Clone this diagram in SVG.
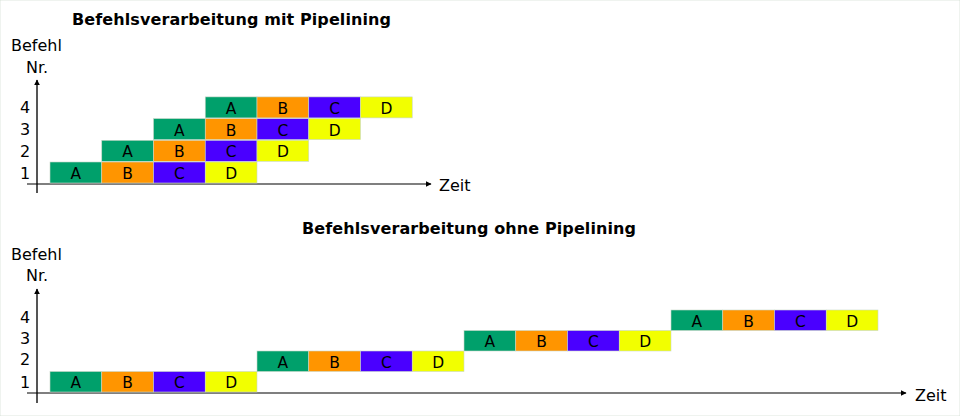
<svg xmlns="http://www.w3.org/2000/svg" width="960" height="416" viewBox="0 0 960 416">
<defs>
<marker id="ah" viewBox="0 0 10 10" refX="9" refY="5" markerWidth="6" markerHeight="6" markerUnits="userSpaceOnUse" orient="auto"><path d="M0,0 L10,5 L0,10 z" fill="#000"/></marker>
<style>
text{font-family:"DejaVu Sans","Liberation Sans",sans-serif;font-size:16px;fill:#000}
.t{font-weight:bold;font-size:16px}
.lbl{text-anchor:middle;font-size:15.5px}
.A{fill:#00a06b}.B{fill:#ff9500}.C{fill:#4a00ff}.D{fill:#f2ff00}
rect{stroke:#c8d8c8;stroke-width:0.6}
.ax{stroke:#000;stroke-width:1.2;fill:none}
.ay{stroke:#555;stroke-width:2;fill:none}
</style>
</defs>
<rect width="960" height="416" fill="#fff" stroke="none"/>
<text class="t" x="72" y="25" textLength="319" lengthAdjust="spacing">Befehlsverarbeitung mit Pipelining</text>
<text x="11" y="51">Befehl</text>
<text x="26" y="73">Nr.</text>
<text x="20" y="113">4</text>
<text x="20" y="135">3</text>
<text x="20" y="157">2</text>
<text x="20" y="179">1</text>
<text x="439" y="191">Zeit</text>
<text class="t" x="302" y="234" textLength="334" lengthAdjust="spacing">Befehlsverarbeitung ohne Pipelining</text>
<text x="11" y="260">Befehl</text>
<text x="26" y="281">Nr.</text>
<text x="20" y="323">4</text>
<text x="20" y="344">3</text>
<text x="20" y="365">2</text>
<text x="20" y="388">1</text>
<text x="915" y="401">Zeit</text>
<g id="connectors">
<line class="ay" x1="37" y1="193" x2="37" y2="80" marker-end="url(#ah)"/>
<line class="ax" x1="27" y1="184" x2="431" y2="184" marker-end="url(#ah)"/>
<line class="ay" x1="37" y1="403" x2="37" y2="289" marker-end="url(#ah)"/>
<line class="ax" x1="27" y1="393" x2="906" y2="393" marker-end="url(#ah)"/>
</g>
<!-- top chart -->
<g id="p1A"><rect class="A" x="50" y="162" width="51.75" height="21"/><text class="lbl" x="75.9" y="179">A</text></g>
<g id="p1B"><rect class="B" x="101.75" y="162" width="51.75" height="21"/><text class="lbl" x="127.6" y="179">B</text></g>
<g id="p1C"><rect class="C" x="153.5" y="162" width="51.75" height="21"/><text class="lbl" x="179.4" y="179">C</text></g>
<g id="p1D"><rect class="D" x="205.25" y="162" width="51.75" height="21"/><text class="lbl" x="231.1" y="179">D</text></g>
<g id="p2A"><rect class="A" x="101.75" y="140.3" width="51.75" height="21"/><text class="lbl" x="127.6" y="157.3">A</text></g>
<g id="p2B"><rect class="B" x="153.5" y="140.3" width="51.75" height="21"/><text class="lbl" x="179.4" y="157.3">B</text></g>
<g id="p2C"><rect class="C" x="205.25" y="140.3" width="51.75" height="21"/><text class="lbl" x="231.1" y="157.3">C</text></g>
<g id="p2D"><rect class="D" x="257" y="140.3" width="51.75" height="21"/><text class="lbl" x="282.9" y="157.3">D</text></g>
<g id="p3A"><rect class="A" x="153.5" y="118.6" width="51.75" height="21"/><text class="lbl" x="179.4" y="135.6">A</text></g>
<g id="p3B"><rect class="B" x="205.25" y="118.6" width="51.75" height="21"/><text class="lbl" x="231.1" y="135.6">B</text></g>
<g id="p3C"><rect class="C" x="257" y="118.6" width="51.75" height="21"/><text class="lbl" x="282.9" y="135.6">C</text></g>
<g id="p3D"><rect class="D" x="308.75" y="118.6" width="51.75" height="21"/><text class="lbl" x="334.6" y="135.6">D</text></g>
<g id="p4A"><rect class="A" x="205.25" y="96.9" width="51.75" height="21"/><text class="lbl" x="231.1" y="113.9">A</text></g>
<g id="p4B"><rect class="B" x="257" y="96.9" width="51.75" height="21"/><text class="lbl" x="282.9" y="113.9">B</text></g>
<g id="p4C"><rect class="C" x="308.75" y="96.9" width="51.75" height="21"/><text class="lbl" x="334.6" y="113.9">C</text></g>
<g id="p4D"><rect class="D" x="360.5" y="96.9" width="51.75" height="21"/><text class="lbl" x="386.4" y="113.9">D</text></g>
<!-- bottom chart -->
<g id="s1A"><rect class="A" x="50" y="371.5" width="51.75" height="20.5"/><text class="lbl" x="75.9" y="388">A</text></g>
<g id="s1B"><rect class="B" x="101.75" y="371.5" width="51.75" height="20.5"/><text class="lbl" x="127.6" y="388">B</text></g>
<g id="s1C"><rect class="C" x="153.5" y="371.5" width="51.75" height="20.5"/><text class="lbl" x="179.4" y="388">C</text></g>
<g id="s1D"><rect class="D" x="205.25" y="371.5" width="51.75" height="20.5"/><text class="lbl" x="231.1" y="388">D</text></g>
<g id="s2A"><rect class="A" x="257" y="351" width="51.75" height="20.5"/><text class="lbl" x="282.9" y="367.5">A</text></g>
<g id="s2B"><rect class="B" x="308.75" y="351" width="51.75" height="20.5"/><text class="lbl" x="334.6" y="367.5">B</text></g>
<g id="s2C"><rect class="C" x="360.5" y="351" width="51.75" height="20.5"/><text class="lbl" x="386.4" y="367.5">C</text></g>
<g id="s2D"><rect class="D" x="412.25" y="351" width="51.75" height="20.5"/><text class="lbl" x="438.1" y="367.5">D</text></g>
<g id="s3A"><rect class="A" x="464" y="330.5" width="51.75" height="20.5"/><text class="lbl" x="489.9" y="347">A</text></g>
<g id="s3B"><rect class="B" x="515.75" y="330.5" width="51.75" height="20.5"/><text class="lbl" x="541.6" y="347">B</text></g>
<g id="s3C"><rect class="C" x="567.5" y="330.5" width="51.75" height="20.5"/><text class="lbl" x="593.4" y="347">C</text></g>
<g id="s3D"><rect class="D" x="619.25" y="330.5" width="51.75" height="20.5"/><text class="lbl" x="645.1" y="347">D</text></g>
<g id="s4A"><rect class="A" x="671" y="310" width="51.75" height="20.5"/><text class="lbl" x="696.9" y="326.5">A</text></g>
<g id="s4B"><rect class="B" x="722.75" y="310" width="51.75" height="20.5"/><text class="lbl" x="748.6" y="326.5">B</text></g>
<g id="s4C"><rect class="C" x="774.5" y="310" width="51.75" height="20.5"/><text class="lbl" x="800.4" y="326.5">C</text></g>
<g id="s4D"><rect class="D" x="826.25" y="310" width="51.75" height="20.5"/><text class="lbl" x="852.1" y="326.5">D</text></g>
</svg>
